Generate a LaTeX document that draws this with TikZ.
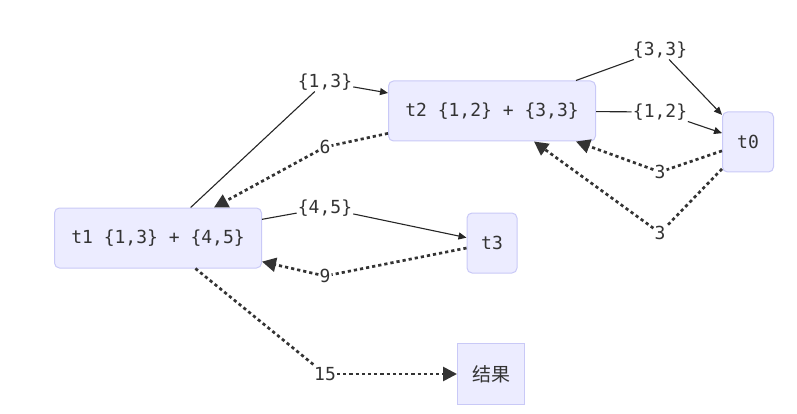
\documentclass[tikz,border=0pt]{standalone}
\usepackage{fontspec}
\setmonofont{DejaVu Sans Mono}
\newfontfamily\cjk{Noto Sans CJK SC}
\usepackage{tikz}
\usetikzlibrary{arrows.meta, positioning}
\usepackage{xcolor}
\definecolor{nodefill}{HTML}{ECECFF}
\definecolor{nodeline}{HTML}{C9C9F7}
\definecolor{txt}{HTML}{333333}

\begin{document}
\begin{tikzpicture}[
  x=1pt, y=-1pt,
  box/.style={draw=nodeline, fill=nodefill, rounded corners=5pt, line width=1pt,
              minimum height=60pt, inner sep=0pt, align=center,
              font=\ttfamily\fontsize{18}{20}\selectfont, text=txt},
  lbl/.style={fill=white, inner sep=1pt, font=\ttfamily\fontsize{18}{20}\selectfont, text=txt},
  arr/.style={-{Triangle[length=8pt, width=7pt]}, line width=1.1pt, black!85},
  seg/.style={line width=1.1pt, black!85},
  dot/.style={line width=2.7pt, black!80, dash pattern=on 3.2pt off 3pt},
  darr/.style={dot, -{Triangle[length=14pt, width=14pt]}}
]
  \useasboundingbox (0,0) rectangle (797,414);

  % nodes
  \node[box, minimum width=207pt] (t1) at (158,238) {t1 \{1,3\} + \{4,5\}};
  \node[box, minimum width=207pt] (t2) at (492,111) {t2 \{1,2\} + \{3,3\}};
  \node[box, minimum width=51pt] (t0) at (748,142) {t0};
  \node[box, minimum width=50pt] (t3) at (492,243) {t3};
  \node[box, minimum width=67pt, minimum height=61pt, rounded corners=0pt,
        font=\cjk\fontsize{19}{21}\selectfont] (res) at (491,374) {结果};

  % edge labels
  \node[lbl] (l13) at (325,82) {\{1,3\}};
  \node[lbl] (l33) at (660,50) {\{3,3\}};
  \node[lbl] (l12) at (660,112) {\{1,2\}};
  \node[lbl] (l3a) at (660,172) {3};
  \node[lbl] (l3b) at (660,233) {3};
  \node[lbl] (l6) at (325,147) {6};
  \node[lbl] (l45) at (325,208) {\{4,5\}};
  \node[lbl] (l9) at (325,276) {9};
  \node[lbl] (l15) at (325,374) {15};

  % solid edges
  \draw[seg] (t1) -- (l13);
  \draw[arr] (l13) -- (t2);
  \draw[seg] (t2) -- (l33);
  \draw[arr] (l33) -- (t0);
  \draw[seg] (t2) -- (l12);
  \draw[arr] (l12) -- (t0);
  \draw[seg] (t1) -- (l45);
  \draw[arr] (l45) -- (t3);

  % dotted edges
  \draw[dot] (t0) -- (l3a);
  \draw[darr] (l3a) -- (t2);
  \draw[dot] (t0) -- (l3b);
  \draw[darr] (l3b) -- (t2);
  \draw[dot] (t2) -- (l6);
  \draw[darr] (l6) -- (t1);
  \draw[dot] (t3) -- (l9);
  \draw[darr] (l9) -- (t1);
  \draw[dot] (t1) -- (l15);
  \draw[darr] (l15) -- (res);
\end{tikzpicture}
\end{document}
